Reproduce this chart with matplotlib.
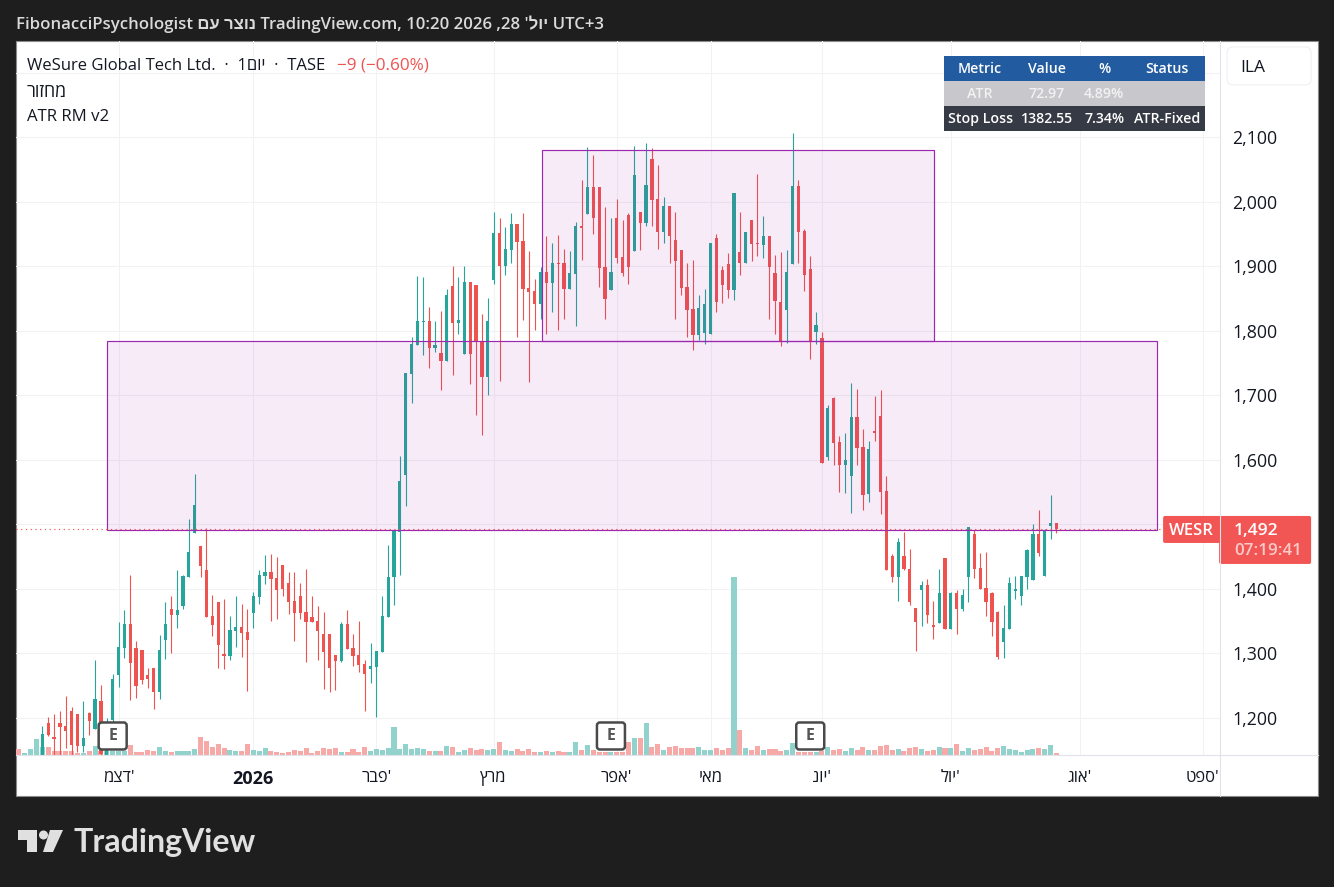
import matplotlib
matplotlib.use("Agg")
import matplotlib.pyplot as plt
from matplotlib.patches import Rectangle, FancyBboxPatch, Circle, Polygon

plt.rcParams['font.family'] = ['Open Sans', 'Liberation Sans', 'DejaVu Sans']

# daily candles
opens = [1140, 1192, 1170, 1192, 1187, 1210, 1206, 1156, 1207, 1182, 1226, 1140, 1196, 1266, 1308, 1345, 1308, 1305, 1266, 1277,
         1240, 1320, 1368, 1359, 1373, 1418, 1486, 1466, 1429, 1358, 1379, 1299, 1296, 1334, 1340, 1333, 1362, 1387, 1420, 1426,
         1417, 1437, 1409, 1381, 1389, 1364, 1356, 1350, 1330, 1330, 1297, 1288, 1345, 1308, 1297, 1283, 1275, 1278, 1302, 1356,
         1418, 1488, 1576, 1733, 1778, 1814, 1815, 1773, 1766, 1753, 1869, 1812, 1764, 1876, 1871, 1784, 1728, 1879, 1952, 1900,
         1925, 1966, 1939, 1866, 1862, 1842, 1891, 1874, 1905, 1905, 1865, 1888, 1963, 1981, 2023, 2023, 1899, 1863, 1975, 1914,
         1980, 1924, 1984, 1967, 2066, 2004, 1953, 1994, 1941, 1925, 1868, 1834, 1793, 1797, 1795, 1944, 1894, 1904, 1863, 1922,
         1905, 1972, 1936, 1933, 1947, 1890, 1845, 1832, 1904, 2025, 1955, 1896, 1798, 1789, 1604, 1696, 1628, 1592, 1575, 1666,
         1620, 1547, 1645, 1668, 1551, 1451, 1418, 1451, 1431, 1370, 1398, 1406, 1344, 1347, 1448, 1337, 1393, 1368, 1418, 1485,
         1432, 1401, 1393, 1364, 1317, 1337, 1396, 1389, 1418, 1413, 1485, 1420, 1497, 1501]
highs = [1187, 1201, 1206, 1210, 1233, 1216, 1206, 1226, 1209, 1289, 1250, 1199, 1268, 1348, 1367, 1421, 1319, 1305, 1277, 1277,
         1328, 1379, 1389, 1429, 1421, 1508, 1578, 1466, 1494, 1390, 1379, 1384, 1358, 1389, 1376, 1368, 1395, 1429, 1452, 1454,
         1449, 1437, 1426, 1426, 1409, 1430, 1389, 1373, 1364, 1330, 1297, 1348, 1367, 1330, 1350, 1289, 1316, 1303, 1389, 1468,
         1491, 1606, 1735, 1790, 1885, 1883, 1837, 1815, 1831, 1865, 1900, 1883, 1900, 1876, 1871, 1826, 1851, 1984, 1975, 1961,
         1983, 1966, 1983, 1924, 1880, 1899, 1947, 1936, 1949, 1927, 1924, 1969, 2034, 2085, 2073, 2023, 1992, 1975, 2004, 1972,
         1983, 2087, 1984, 2091, 2083, 2057, 2007, 1994, 1984, 1925, 1905, 1910, 1855, 1865, 1936, 1950, 1900, 1921, 2014, 1984,
         1953, 1972, 2043, 1978, 1947, 1918, 1922, 1925, 2107, 2034, 1958, 1916, 1829, 1798, 1685, 1697, 1637, 1641, 1719, 1710,
         1648, 1629, 1699, 1708, 1575, 1454, 1479, 1488, 1462, 1370, 1412, 1415, 1381, 1431, 1448, 1395, 1398, 1399, 1496, 1491,
         1455, 1457, 1395, 1365, 1375, 1418, 1420, 1420, 1462, 1500, 1522, 1493, 1545, 1502]
lows = [1130, 1171, 1135, 1135, 1153, 1135, 1147, 1147, 1173, 1182, 1135, 1135, 1191, 1247, 1292, 1227, 1230, 1252, 1246, 1213,
        1229, 1291, 1300, 1339, 1368, 1418, 1486, 1418, 1356, 1327, 1277, 1275, 1289, 1309, 1294, 1241, 1339, 1376, 1407, 1350,
        1353, 1389, 1361, 1319, 1353, 1286, 1348, 1289, 1244, 1240, 1243, 1286, 1306, 1280, 1271, 1210, 1254, 1201, 1302, 1356,
        1375, 1421, 1528, 1688, 1778, 1762, 1742, 1767, 1708, 1753, 1731, 1795, 1764, 1717, 1669, 1638, 1700, 1873, 1722, 1886,
        1905, 1790, 1817, 1721, 1801, 1818, 1795, 1829, 1801, 1818, 1865, 1807, 1910, 1981, 1950, 1868, 1818, 1863, 1905, 1885,
        1873, 1924, 1925, 1963, 1963, 1927, 1936, 1905, 1818, 1855, 1790, 1770, 1786, 1779, 1795, 1829, 1843, 1851, 1848, 1886,
        1905, 1908, 1916, 1913, 1818, 1795, 1776, 1781, 1904, 1905, 1862, 1756, 1779, 1595, 1600, 1592, 1550, 1548, 1517, 1592,
        1522, 1534, 1629, 1516, 1429, 1410, 1381, 1429, 1375, 1303, 1342, 1347, 1322, 1347, 1337, 1337, 1330, 1365, 1379, 1417,
        1399, 1358, 1327, 1291, 1292, 1337, 1384, 1375, 1399, 1413, 1451, 1420, 1477, 1486]
closes = [1175, 1173, 1167, 1185, 1179, 1157, 1156, 1168, 1195, 1229, 1143, 1190, 1260, 1309, 1345, 1285, 1249, 1258, 1260, 1240,
          1305, 1345, 1359, 1367, 1420, 1457, 1530, 1435, 1356, 1344, 1313, 1296, 1336, 1340, 1331, 1320, 1389, 1421, 1426, 1415,
          1398, 1399, 1379, 1362, 1362, 1348, 1348, 1334, 1302, 1277, 1288, 1345, 1306, 1296, 1282, 1268, 1280, 1303, 1358, 1418,
          1490, 1567, 1735, 1780, 1815, 1815, 1773, 1778, 1753, 1855, 1812, 1817, 1876, 1764, 1783, 1728, 1815, 1952, 1900, 1927,
          1966, 1938, 1865, 1860, 1842, 1891, 1874, 1905, 1904, 1865, 1890, 1963, 1959, 2023, 1975, 1897, 1849, 1891, 1913, 1890,
          1899, 2042, 1967, 2026, 2003, 1953, 1994, 1947, 1908, 1866, 1832, 1793, 1835, 1842, 1936, 1845, 1871, 1863, 2014, 1905,
          1953, 1935, 1935, 1947, 1899, 1846, 1783, 1891, 2025, 1953, 1887, 1784, 1809, 1595, 1680, 1626, 1592, 1600, 1666, 1618,
          1545, 1617, 1641, 1550, 1429, 1418, 1472, 1431, 1379, 1348, 1406, 1359, 1341, 1393, 1337, 1393, 1368, 1390, 1496, 1431,
          1399, 1379, 1348, 1294, 1339, 1409, 1399, 1420, 1460, 1485, 1455, 1491, 1502, 1492]

# turnover bars, arbitrary units; first four have no candle on screen
early_volumes = [18, 6, 18, 48]
early_up = [False, True, True, True]
volumes = [24, 24, 12, 12, 12, 12, 6, 6, 12, 27, 12, 12, 12, 12, 12, 30, 9, 9, 15, 12,
           24, 12, 9, 12, 12, 12, 18, 54, 42, 24, 33, 21, 15, 12, 12, 33, 15, 12, 21, 12,
           9, 6, 9, 15, 12, 21, 6, 12, 21, 18, 21, 9, 9, 18, 9, 24, 12, 18, 15, 21,
           84, 18, 33, 18, 21, 18, 12, 12, 12, 27, 24, 9, 15, 21, 15, 18, 15, 18, 39, 15,
           12, 18, 12, 18, 9, 9, 12, 9, 12, 9, 9, 39, 15, 30, 15, 9, 9, 9, 9, 9,
           39, 51, 51, 96, 24, 33, 15, 24, 27, 21, 21, 21, 24, 15, 15, 21, 15, 21, 534, 75,
           21, 15, 27, 15, 18, 18, 12, 15, 36, 9, 9, 9, 9, 12, 24, 15, 18, 12, 21, 15,
           24, 15, 15, 27, 30, 15, 18, 12, 21, 24, 18, 12, 15, 24, 21, 21, 33, 12, 21, 15,
           18, 24, 12, 21, 27, 18, 15, 9, 15, 18, 21, 18, 30, 6]

price_ticks = [1200, 1300, 1400, 1500, 1600, 1700, 1800, 1900, 2000, 2100, 2200]
price_labels = ['1,200', '1,300', '1,400', '', '1,600', '1,700', '1,800', '1,900', '2,000', '2,100', '']
month_pos = [13, 36, 57, 77, 98, 114, 133, 155, 177, 198]
# matplotlib has no bidi, Hebrew is typed in display order
month_labels = ["מצד'", "2026", "רבפ'", "ץרמ", "רפא'", "יאמ", "נוי'", "לוי'", "גוא'", "טפס'"]
earnings_pos = [12, 97, 131]

lower_zone = (11.1, 190.1, 1491, 1783.6)
upper_zone = (85.2, 152.1, 1784, 2080)
last_price = 1492

table_rows = [["Metric", "Value", "%", "Status"],
              ["ATR", "72.97", "4.89%", ""],
              ["Stop Loss", "1382.55", "7.34%", "ATR-Fixed"]]

W, H = 1334, 887
UP = '#26A69A'
DOWN = '#EF5350'
UP_VOL = '#92D2CC'
DOWN_VOL = '#F7A9A7'
PURPLE = '#9C27B0'
TEXT = '#131722'
GRID = '#F1F2F5'

# the small extra keeps matplotlib from flooring the height to 886
fig = plt.figure(figsize=((W + 0.1) / 100, (H + 0.1) / 100), dpi=100, facecolor='#1E1E1E')
fig.add_artist(Rectangle((16 / W, 1 - 796 / H), 1302 / W, 755 / H, transform=fig.transFigure,
                         facecolor='white', edgecolor='#8a8a8a', linewidth=0.8, zorder=-1))

ax = fig.add_axes([16 / W, 1 - 755 / H, 1204 / W, 714 / H], facecolor='none', zorder=1)
ax.set_xlim(-4.49, 200.93)
ax.set_ylim(1142, 2249.3)
for s in ax.spines.values():
    s.set_visible(False)

ax.set_axisbelow(True)
ax.grid(True, color=GRID, linewidth=0.75)
ax.yaxis.tick_right()
ax.set_yticks(price_ticks, price_labels)
ax.set_xticks(month_pos, month_labels)
ax.tick_params(axis='y', length=0, pad=9, labelsize=12.8, labelcolor=TEXT)
ax.tick_params(axis='x', length=0, pad=10.5, labelsize=12, labelcolor=TEXT)
ax.get_xticklabels()[1].set_fontweight('bold')
ax.get_xticklabels()[1].set_fontsize(13)

# volume, scaled against pane height
VOL_TOP = 2142
vol_x = list(range(-4, len(volumes)))
vol_y = [v / VOL_TOP for v in early_volumes + volumes]
vol_up = early_up + [c >= o for o, c in zip(opens, closes)]
ax.bar(vol_x, vol_y, width=0.86, color=[UP_VOL if u else DOWN_VOL for u in vol_up],
       transform=ax.get_xaxis_transform(), zorder=1)

# candles
idx = list(range(len(opens)))
colors = [UP if c >= o else DOWN for o, c in zip(opens, closes)]
wicks = ax.vlines(idx, lows, highs, colors=colors, linewidth=0.8, zorder=2)
wicks.set_snap(True)
ax.bar(idx, [abs(c - o) for o, c in zip(opens, closes)], bottom=[min(o, c) for o, c in zip(opens, closes)],
       width=0.55, color=colors, zorder=2)

# drawn zones
for x0, x1, y0, y1 in (lower_zone, upper_zone):
    ax.add_patch(Rectangle((x0, y0), x1 - x0, y1 - y0, facecolor=(0.612, 0.153, 0.69, 0.09),
                           edgecolor=PURPLE, linewidth=0.85, zorder=3))
ax.axhline(last_price, color=DOWN, linewidth=0.85, linestyle=(0, (1, 3)), zorder=4)

# chrome in pixel coordinates
ov = fig.add_axes([0, 0, 1, 1], facecolor='none', zorder=2)
ov.set_xlim(0, W)
ov.set_ylim(H, 0)
ov.axis('off')

ov.plot([16, 1318], [755, 755], color='#E0E3EB', lw=0.8)
ov.plot([1220, 1220], [41, 796], color='#E0E3EB', lw=0.8)

ov.text(16, 24, "FibonacciPsychologist םע רצונ TradingView.com, 10:20 2026 ,28 'לוי UTC+3",
        color='#DADADA', fontsize=12.1, va='center', fontweight='semibold')

ov.text(27, 65.5, "WeSure Global Tech Ltd.  ·  1םוי  ·  TASE", color=TEXT, fontsize=12.0, va='center')
ov.text(337, 65.5, "−9 (−0.60%)", color=DOWN, fontsize=12.3, va='center')
ov.text(27, 92, "רוזחמ", color=TEXT, fontsize=12.8, va='center')
ov.text(27, 117, "ATR RM v2", color=TEXT, fontsize=12.1, va='center')

# indicator table
row_top = [56, 81, 106]
row_fill = ['#225BA0', '#C8C8CC', '#363A45']
row_text = ['white', '#F2F2F2', 'white']
col_x = [980, 1047, 1104, 1167]
for r, row in enumerate(table_rows):
    ov.add_patch(Rectangle((944, row_top[r]), 261, 25, facecolor=row_fill[r], edgecolor='none'))
    for c, cell in enumerate(row):
        ov.text(col_x[c], row_top[r] + 12.5, cell, color=row_text[r], fontsize=10.2, ha='center', va='center',
                fontweight='semibold')

# currency button
ov.add_patch(FancyBboxPatch((1230, 50), 78, 32, boxstyle='round,pad=3,rounding_size=6',
                            facecolor='white', edgecolor='#EEF0F3', linewidth=0.8))
ov.text(1240, 68, "ILA", color=TEXT, fontsize=12.5, va='center')

# last price tags
ov.add_patch(FancyBboxPatch((1165, 518), 55, 23, boxstyle='round,pad=2,rounding_size=2',
                            facecolor='#F15654', edgecolor='none'))
ov.text(1169, 531, "WESR", color='white', fontsize=12, va='center', fontweight='semibold')
ov.add_patch(FancyBboxPatch((1221, 518), 88, 44, boxstyle='round,pad=2,rounding_size=2',
                            facecolor='#F15654', edgecolor='none'))
ov.text(1234, 531, "1,492", color='white', fontsize=12.6, va='center', fontweight='semibold')
ov.text(1234, 551, "07:19:41", color='#FBCBCA', fontsize=12.2, va='center', fontweight='semibold')

# earnings badges sit on their bars
for pos in earnings_pos:
    px = ax.transData.transform((pos, last_price))[0]
    ov.add_patch(FancyBboxPatch((px - 12.5, 724), 25, 24, boxstyle='round,pad=1.5,rounding_size=3',
                                facecolor='white', edgecolor='#4A4A4A', linewidth=1.8, zorder=5))
    ov.text(px, 736, "E", color='#555555', fontsize=11.5, ha='center', va='center', fontweight='bold', zorder=6)

# logo
LOGO = '#E0E0E0'
ov.add_patch(Polygon([(18, 830), (37, 830), (37, 852), (27, 852), (27, 840), (18, 840)], facecolor=LOGO, edgecolor='none'))
ov.add_patch(Circle((43.5, 835), 4.5, facecolor=LOGO, edgecolor='none'))
ov.add_patch(Polygon([(50, 830), (63, 830), (53, 852), (43, 852)], facecolor=LOGO, edgecolor='none'))
ov.text(73, 842, "TradingView", color=LOGO, fontsize=23.1, va='center', family='Lato', fontweight='bold')

fig.savefig('out.png', dpi=100, facecolor=fig.get_facecolor())
